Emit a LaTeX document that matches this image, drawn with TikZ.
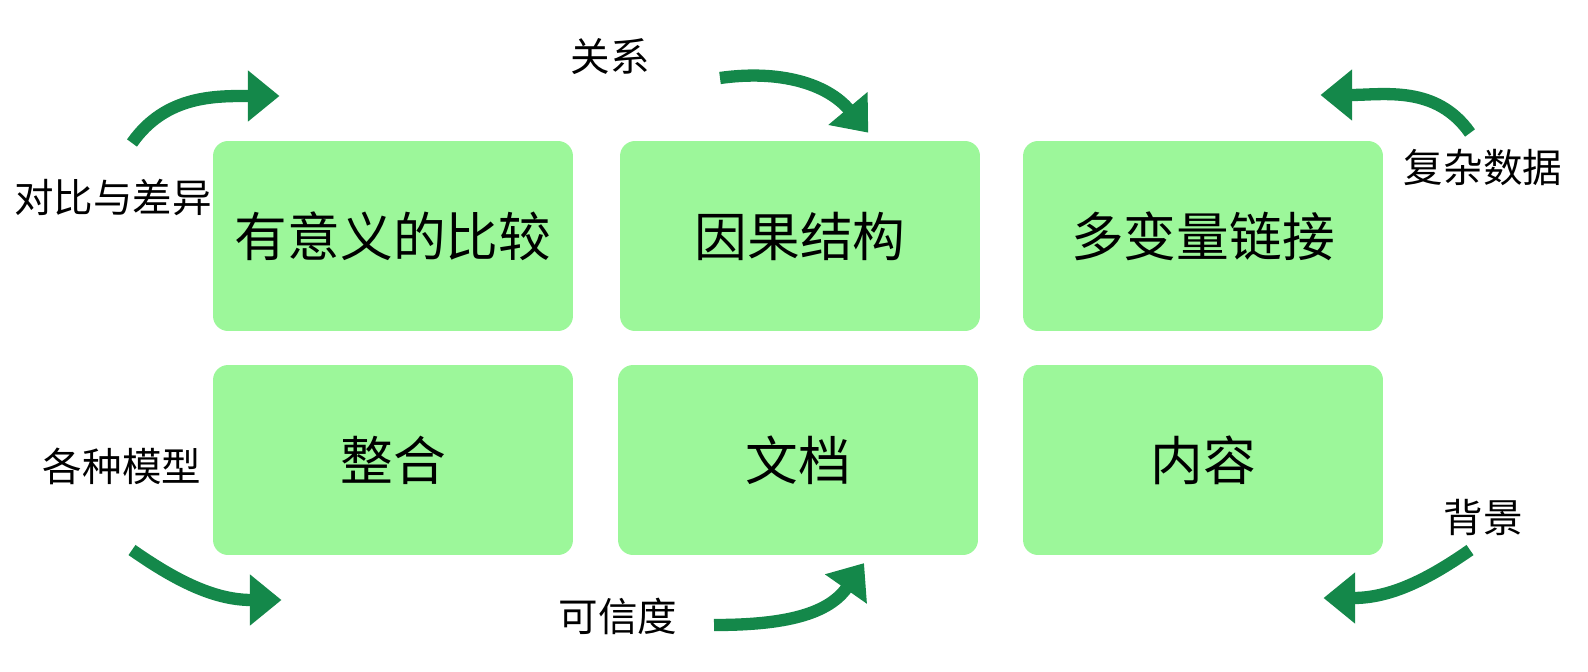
\documentclass[tikz,border=0pt]{standalone}
\usepackage{fontspec}
\setmainfont{Noto Sans CJK SC}
\usetikzlibrary{arrows.meta}
\definecolor{boxColor}{HTML}{9CF79A}
\definecolor{arColor}{HTML}{14884A}
\tikzset{
	box/.style={fill=boxColor, rounded corners=3mm, minimum width=7.2cm, minimum height=3.8cm, font=\fontsize{30}{34}\selectfont},
	lab/.style={font=\fontsize{22.5}{26}\selectfont},
	bigarrow/.style={draw=arColor, line width=7pt, -{Triangle[length=18pt,width=28pt]}, shorten >=-2pt}
}
\begin{document}
\begin{tikzpicture}[x=0.02cm,y=-0.02cm]
	\useasboundingbox (0,0) rectangle (1588,672);
	\node[box] (cmp) at (393,236) {有意义的比较};
	\node[box] (cause) at (800,236) {因果结构};
	\node[box] (multi) at (1203,236) {多变量链接};
	\node[box] (integ) at (393,460) {整合};
	\node[box] (doc) at (798,460) {文档};
	\node[box] (cont) at (1203,460) {内容};
	
	\node[lab] (lcmp) at (113,197) {对比与差异};
	\node[lab] (lrel) at (610,57) {关系};
	\node[lab] (lcx) at (1483,168) {复杂数据};
	\node[lab] (lmod) at (122,466) {各种模型};
	\node[lab] (lcred) at (618,616) {可信度};
	\node[lab] (lbg) at (1483,517) {背景};
	
	\coordinate (a1s) at (132,143); \coordinate (a1e) at (276,96);
	\coordinate (a2s) at (720,78); \coordinate (a2e) at (866,130);
	\coordinate (a3s) at (1470,133); \coordinate (a3e) at (1324,95);
	\coordinate (a4s) at (132,550); \coordinate (a4e) at (278,600);
	\coordinate (a5s) at (714,625); \coordinate (a5e) at (862,566);
	\coordinate (a6s) at (1470,550); \coordinate (a6e) at (1327,598);
	
	\draw[bigarrow] (a1s) to[out=55,in=180] (a1e);
	\draw[bigarrow] (a2s) to[out=8,in=130] (a2e);
	\draw[bigarrow] (a3s) to[out=125,in=0] (a3e);
	\draw[bigarrow] (a4s) to[out=-35,in=180] (a4e);
	\draw[bigarrow] (a5s) to[out=0,in=-125] (a5e);
	\draw[bigarrow] (a6s) to[out=-145,in=0] (a6e);
\end{tikzpicture}
\end{document}
